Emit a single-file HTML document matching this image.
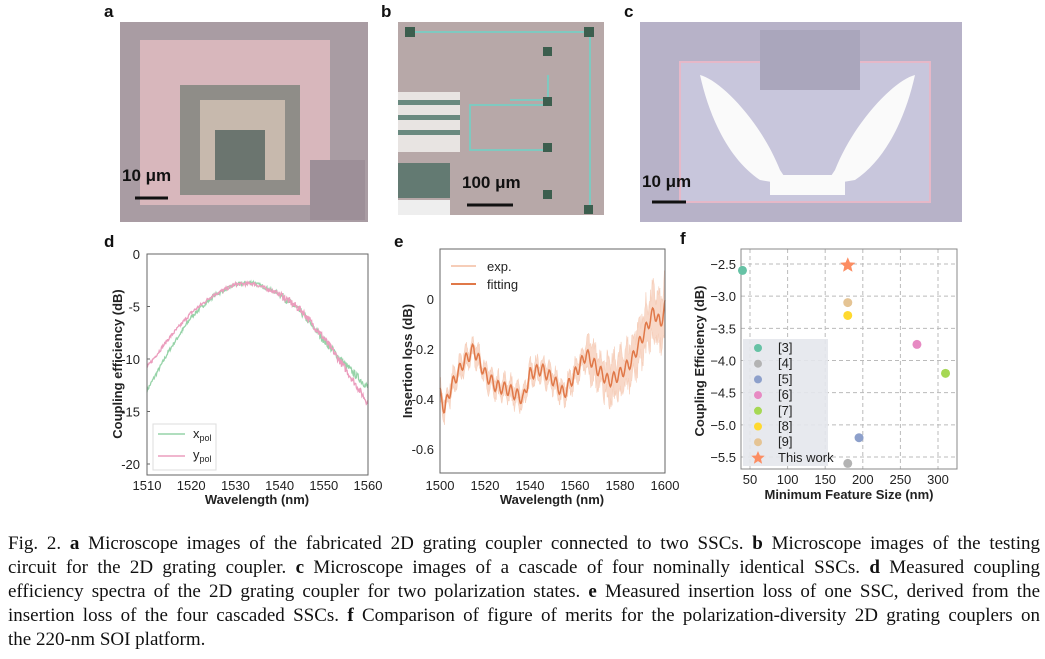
<!DOCTYPE html>
<html><head><meta charset="utf-8">
<style>
body{margin:0;width:1045px;height:659px;background:#fff;overflow:hidden;position:relative;font-family:"Liberation Sans",sans-serif}
.cap{position:absolute;left:8px;top:532px;width:1032px;font-family:"Liberation Serif",serif;font-size:19px;line-height:24px;color:#111}
.cap div{text-align:justify;text-align-last:justify;white-space:nowrap}
.cap div.l{text-align-last:left}
svg{position:absolute;left:0;top:0}
</style></head><body>
<svg id="s" width="1045" height="659" xmlns="http://www.w3.org/2000/svg" font-family="Liberation Sans, sans-serif">
<rect x="120" y="22" width="248" height="200" fill="#a99ca3"/>
<rect x="140" y="40" width="190" height="165" fill="#d8b7bc"/>
<rect x="180" y="85" width="120" height="110" fill="#8f8d88"/>
<rect x="200" y="100" width="85" height="80" fill="#c7b9ad"/>
<rect x="215" y="130" width="50" height="50" fill="#6b756f"/>
<rect x="310" y="160" width="55" height="60" fill="#9d8f98"/>
<line x1="135" y1="198" x2="168" y2="198" stroke="#111" stroke-width="3"/>
<text x="122" y="181" font-size="17" font-weight="bold" fill="#111">10 μm</text>
<rect x="398" y="22" width="206" height="193" fill="#b7a8a8"/>
<rect x="398" y="92" width="62" height="60" fill="#e8e4e2"/>
<rect x="398" y="100" width="62" height="5" fill="#6a8a80"/><rect x="398" y="115" width="62" height="5" fill="#6a8a80"/><rect x="398" y="130" width="62" height="5" fill="#6a8a80"/>
<rect x="398" y="163" width="52" height="35" fill="#637a72"/>
<rect x="398" y="200" width="52" height="15" fill="#eee"/>
<path d="M410 32 H590 V205 M548 75 V105 H470 V150 H545 M545 100 H510" stroke="#7fc9c0" stroke-width="2" fill="none"/>
<g fill="#3c5e4e"><rect x="405" y="27" width="10" height="10"/><rect x="584" y="27" width="10" height="10"/><rect x="543" y="47" width="9" height="9"/><rect x="543" y="97" width="9" height="9"/><rect x="543" y="143" width="9" height="9"/><rect x="543" y="190" width="9" height="9"/><rect x="584" y="205" width="9" height="9"/></g>
<line x1="467" y1="205" x2="513" y2="205" stroke="#111" stroke-width="3"/>
<text x="462" y="188" font-size="17" font-weight="bold" fill="#111">100 μm</text>
<rect x="640" y="22" width="322" height="200" fill="#b7b2c8"/>
<rect x="680" y="62" width="250" height="140" fill="#c8c6dc" stroke="#e6b8c8" stroke-width="2"/>
<path d="M700 75 C720 80 760 120 780 170 L790 185 L760 180 C730 160 710 120 700 75Z M915 75 C895 80 855 120 835 170 L825 185 L855 180 C885 160 905 120 915 75Z" fill="#fafafa"/>
<rect x="770" y="175" width="75" height="20" fill="#fafafa"/>
<rect x="760" y="30" width="100" height="60" fill="#aaa6bc"/>
<line x1="652" y1="202" x2="686" y2="202" stroke="#111" stroke-width="3"/>
<text x="642" y="187" font-size="17" font-weight="bold" fill="#111">10 μm</text>
<g font-size="17" font-weight="bold" fill="#111"><text x="104" y="17">a</text><text x="381" y="17">b</text><text x="624" y="17">c</text>
<text x="104" y="247">d</text><text x="394" y="247">e</text><text x="680" y="244">f</text></g>
<g id="plots"></g>
</svg>
<div class="cap">
<div>Fig. 2. <b>a</b> Microscope images of the fabricated 2D grating coupler connected to two SSCs. <b>b</b> Microscope images of the testing</div>
<div>circuit for the 2D grating coupler. <b>c</b> Microscope images of a cascade of four nominally identical SSCs. <b>d</b> Measured coupling</div>
<div>efficiency spectra of the 2D grating coupler for two polarization states. <b>e</b> Measured insertion loss of one SSC, derived from the</div>
<div>insertion loss of the four cascaded SSCs. <b>f</b> Comparison of figure of merits for the polarization-diversity 2D grating couplers on</div>
<div class="l">the 220-nm SOI platform.</div>
</div>
<script>
var g=document.getElementById('plots'),h='';
var seed=7;function rnd(){seed=(seed*16807)%2147483647;return seed/2147483647;}
function interp(pts,x){for(var i=0;i<pts.length-1;i++){if(x<=pts[i+1][0]){var a=pts[i],b=pts[i+1],t=(x-a[0])/(b[0]-a[0]);return a[1]+t*(b[1]-a[1]);}}return pts[pts.length-1][1];}
function T(x,y,s,o){h+='<text x="'+x+'" y="'+y+'" font-size="13" fill="#222" '+(o||'')+'>'+s+'</text>';}
var dx=function(v){return 147+(v-1510)*221/50},dy=function(v){return 254-v*10.5};
var xp=[[1510,-13],[1515,-9.2],[1520,-6],[1525,-4],[1530,-2.9],[1534,-2.7],[1540,-3.8],[1545,-5.6],[1550,-8.2],[1555,-10.6],[1560,-12.7]];
var yp=[[1510,-10.8],[1515,-8],[1520,-5.6],[1525,-3.9],[1530,-2.9],[1534,-2.8],[1540,-3.8],[1545,-5.4],[1550,-8],[1555,-11],[1560,-14.2]];
function curve(pts,col,n,amp){var d='';for(var i=0;i<=n;i++){var v=1510+50*i/n;d+=(i?'L':'M')+dx(v).toFixed(1)+' '+dy(interp(pts,v)+(rnd()-0.5)*amp*(v>1540?2:1)).toFixed(1);}h+='<path d="'+d+'" stroke="'+col+'" stroke-width="1.3" fill="none"/>';}
curve(xp,'#96d3a8',400,0.35);curve(yp,'#eb9dbd',400,0.35);
h+='<rect x="147" y="254" width="221" height="221" fill="none" stroke="#666"/>';
[0,-5,-10,-15,-20].forEach(function(v){T(140,dy(v)+5,v,'text-anchor="end"');h+='<line x1="147" x2="150" y1="'+dy(v)+'" y2="'+dy(v)+'" stroke="#666"/>';});
[1510,1520,1530,1540,1550,1560].forEach(function(v){T(dx(v),490,v,'text-anchor="middle"');});
T(257,504,'Wavelength (nm)','text-anchor="middle" font-weight="bold" font-size="14"');
T(0,0,'Coupling efficiency (dB)','transform="translate(122,364) rotate(-90)" text-anchor="middle" font-weight="bold" font-size="14"');
h+='<rect x="153" y="424" width="63" height="46" fill="#fff" stroke="#ddd"/><line x1="158" x2="185" y1="434" y2="434" stroke="#96d3a8" stroke-width="1.5"/><line x1="158" x2="185" y1="456" y2="456" stroke="#eb9dbd" stroke-width="1.5"/>';
T(193,438,'x<tspan font-size="9" dy="3">pol</tspan>');T(193,459,'y<tspan font-size="9" dy="3">pol</tspan>');
var ex=function(v){return 440+(v-1500)*2.25},ey=function(v){return 299-v*250};
var ep=[[1500,-0.38],[1502,-0.44],[1505,-0.35],[1510,-0.26],[1515,-0.2],[1520,-0.3],[1525,-0.35],[1530,-0.36],[1537,-0.4],[1540,-0.3],[1545,-0.28],[1550,-0.32],[1555,-0.38],[1560,-0.3],[1565,-0.22],[1570,-0.28],[1575,-0.33],[1580,-0.3],[1585,-0.25],[1590,-0.15],[1595,-0.05],[1598,-0.1],[1600,-0.03]];
var up='',lo='',fit='';for(var i=0;i<=400;i++){var v=1500+100*i/400,y=interp(ep,v)+0.025*Math.sin(v*2.2),w=(v>1565?0.06+0.03*(v-1565)/35:0.035)*(0.5+rnd()*1.0);up+=(i?'L':'M')+ex(v).toFixed(1)+' '+ey(y+w).toFixed(1);lo='L'+ex(v).toFixed(1)+' '+ey(y-w).toFixed(1)+lo;fit+=(i?'L':'M')+ex(v).toFixed(1)+' '+ey(y).toFixed(1);}
h+='<path d="'+up+lo+'Z" fill="#f8d8c8" stroke="#f6cdb8" stroke-width="0.5"/><path d="'+fit+'" stroke="#e07848" stroke-width="1.5" fill="none"/>';
h+='<rect x="440" y="249" width="225" height="224" fill="none" stroke="#666"/>';
[0,-0.2,-0.4,-0.6].forEach(function(v){T(434,ey(v)+5,v,'text-anchor="end"');});
[1500,1520,1540,1560,1580,1600].forEach(function(v){T(ex(v),490,v,'text-anchor="middle"');});
T(552,504,'Wavelength (nm)','text-anchor="middle" font-weight="bold" font-size="14"');
T(0,0,'Insertion loss (dB)','transform="translate(412,361) rotate(-90)" text-anchor="middle" font-weight="bold" font-size="14"');
h+='<line x1="451" x2="476" y1="266" y2="266" stroke="#f6cdb8" stroke-width="2"/><line x1="451" x2="476" y1="284" y2="284" stroke="#e07848" stroke-width="2"/>';
T(487,271,'exp.');T(487,289,'fitting');
var fx=function(v){return 750+(v-50)*0.752},fy=function(v){return 264+(-2.5-v)*64.33};
h+='<rect x="741" y="249" width="216" height="220" fill="#fff"/>';
[50,100,150,200,250,300].forEach(function(v){h+='<line x1="'+fx(v)+'" x2="'+fx(v)+'" y1="249" y2="469" stroke="#bbb" stroke-dasharray="4,3"/>';T(fx(v),484,v,'text-anchor="middle"');});
[-2.5,-3,-3.5,-4,-4.5,-5,-5.5].forEach(function(v){h+='<line x1="741" x2="957" y1="'+fy(v)+'" y2="'+fy(v)+'" stroke="#bbb" stroke-dasharray="4,3"/>';T(736,fy(v)+5,(v==-2.5||v==-5.5?'−'+(-v):'−'+(-v).toFixed(1)),'text-anchor="end"');});
h+='<rect x="741" y="249" width="216" height="220" fill="none" stroke="#888"/>';
h+='<rect x="743" y="339" width="85" height="127" fill="#e4e7ec" opacity="0.9"/>';
var pts=[['#66c2a5',40,-2.6,'[3]'],['#b3b3b3',180,-5.6,'[4]'],['#8da0cb',195,-5.2,'[5]'],['#e78ac3',272,-3.75,'[6]'],['#a6d854',310,-4.2,'[7]'],['#ffd92f',180,-3.3,'[8]'],['#e5c494',180,-3.1,'[9]']];
pts.forEach(function(p,i){h+='<circle cx="'+fx(p[1])+'" cy="'+fy(p[2])+'" r="4.5" fill="'+p[0]+'"/>';var ly=348+i*15.7;h+='<circle cx="758" cy="'+ly+'" r="4" fill="'+p[0]+'"/>';T(778,ly+4,p[3],'font-size="11"');});
function star(cx,cy,r){var d='';for(var k=0;k<10;k++){var a=-Math.PI/2+k*Math.PI/5,rr=k%2?r*0.45:r;d+=(k?'L':'M')+(cx+rr*Math.cos(a)).toFixed(1)+' '+(cy+rr*Math.sin(a)).toFixed(1);}return '<path d="'+d+'Z" fill="#fc8d62"/>';}
h+=star(fx(180),fy(-2.52),8)+star(758,458,7);T(778,462,'This work','font-size="11"');
T(849,499,'Minimum Feature Size (nm)','text-anchor="middle" font-weight="bold" font-size="14"');
T(0,0,'Coupling Efficiency (dB)','transform="translate(704,361) rotate(-90)" text-anchor="middle" font-weight="bold" font-size="14"');
g.innerHTML=h;
</script>
</body></html>
